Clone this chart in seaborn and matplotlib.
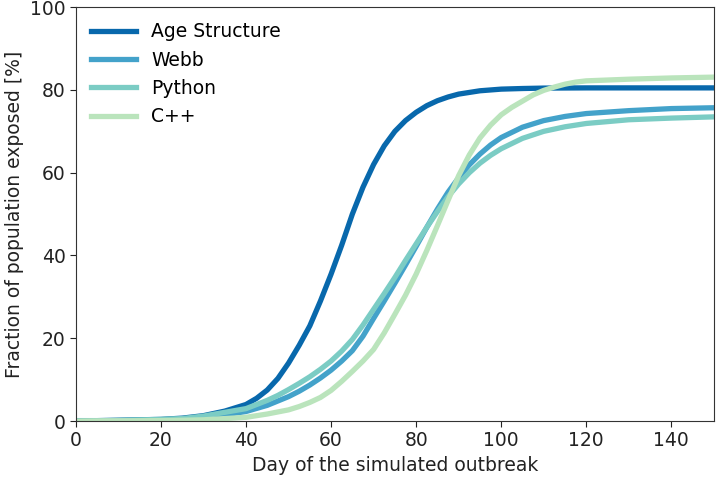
import numpy as np
import pandas as pd
import matplotlib
matplotlib.use("Agg")
import matplotlib.pyplot as plt
import seaborn as sns

# ---- data ----
age_days = [0, 5, 10, 15, 20, 25, 30, 35, 40, 42.5, 45, 47.5, 50, 52.5, 55, 57.5, 60, 62.5,
            65, 67.5, 70, 72.5, 75, 77.5, 80, 82.5, 85, 87.5, 90, 95, 100, 105, 110, 120,
            130, 140, 150]
age_vals = [0.1, 0.1, 0.2, 0.3, 0.4, 0.7, 1.3, 2.4, 4.0, 5.5, 7.5, 10.3, 14.0, 18.3, 23.0,
            29.0, 35.5, 42.5, 50.0, 56.5, 62.0, 66.5, 70.0, 72.6, 74.6, 76.2, 77.4, 78.3,
            79.0, 79.8, 80.2, 80.35, 80.45, 80.5, 80.5, 80.5, 80.5]

webb_days = [0, 10, 20, 25, 30, 35, 40, 45, 50, 52.5, 55, 57.5, 60, 62.5, 65, 67.5, 70, 72.5,
             75, 77.5, 80, 82.5, 85, 87.5, 90, 92.5, 95, 97.5, 100, 105, 110, 115, 120, 130,
             140, 150]
webb_vals = [0.0, 0.1, 0.3, 0.5, 0.9, 1.5, 2.3, 3.8, 5.9, 7.2, 8.7, 10.4, 12.3, 14.5, 17.0,
             20.5, 24.8, 29.0, 33.3, 37.7, 42.2, 46.8, 51.2, 55.3, 58.8, 61.9, 64.5, 66.7,
             68.5, 71.0, 72.6, 73.6, 74.3, 75.0, 75.5, 75.7]

python_days = [0, 10, 20, 25, 30, 35, 40, 45, 47.5, 50, 52.5, 55, 57.5, 60, 62.5, 65, 67.5,
               70, 72.5, 75, 77.5, 80, 82.5, 85, 87.5, 90, 92.5, 95, 97.5, 100, 105, 110,
               115, 120, 130, 140, 150]
python_vals = [0.0, 0.15, 0.4, 0.6, 1.2, 2.1, 3.0, 5.0, 6.2, 7.6, 9.1, 10.7, 12.5, 14.5, 16.9,
               19.7, 23.2, 27.0, 30.8, 34.7, 38.8, 42.8, 46.8, 50.6, 54.2, 57.3, 60.0, 62.3,
               64.2, 65.8, 68.3, 70.0, 71.1, 71.9, 72.8, 73.2, 73.5]

cpp_days = [0, 10, 20, 30, 35, 40, 45, 50, 52.5, 55, 57.5, 60, 62.5, 65, 67.5, 70, 72.5, 75,
            77.5, 80, 82.5, 85, 87.5, 90, 92.5, 95, 97.5, 100, 102.5, 105, 107.5, 110, 112.5,
            115, 117.5, 120, 130, 140, 150]
cpp_vals = [0.0, 0.05, 0.1, 0.3, 0.6, 0.9, 1.7, 2.7, 3.5, 4.5, 5.7, 7.4, 9.6, 12.0, 14.5,
            17.3, 21.3, 25.8, 30.4, 35.5, 41.2, 47.2, 53.3, 59.3, 64.3, 68.4, 71.5, 74.0,
            75.8, 77.3, 78.8, 79.9, 80.7, 81.4, 81.9, 82.2, 82.6, 82.9, 83.1]

labels = ["Age Structure", "Webb", "Python", "C++"]
colors = ["#0868ac", "#43a2ca", "#7bccc4", "#bae4bc"]

frames = []
for lab, d, v in zip(labels, [age_days, webb_days, python_days, cpp_days],
                     [age_vals, webb_vals, python_vals, cpp_vals]):
    frames.append(pd.DataFrame({"day": d, "value": v, "series": lab}))
df = pd.concat(frames, ignore_index=True)

plt.rcParams["font.family"] = ["DejaVu Sans"]

fig = plt.figure(figsize=(7.16, 4.79), dpi=100)
ax = fig.add_axes([0.106, 0.121, 0.891, 0.864])

sns.lineplot(data=df, x="day", y="value", hue="series", hue_order=labels,
             palette=dict(zip(labels, colors)), linewidth=3.8, ax=ax, sort=True,
             estimator=None)

ax.set_xlim(0, 150)
ax.set_ylim(0, 100)
ax.set_xticks([0, 20, 40, 60, 80, 100, 120, 140])
ax.set_yticks([0, 20, 40, 60, 80, 100])
ax.tick_params(labelsize=13.5, direction="out", length=4, colors="#222222")
ax.set_xlabel("Day of the simulated outbreak", fontsize=13.5, color="#222222")
ax.set_ylabel("Fraction of population exposed [%]", fontsize=13.5, color="#222222")
for s in ax.spines.values():
    s.set_visible(True)
    s.set_color("#333333")

leg = ax.legend(loc="upper left", frameon=False, fontsize=13.5, handlelength=2.4,
                borderaxespad=0.4, title=None)
for line in leg.get_lines():
    line.set_linewidth(3.8)

fig.savefig("out.png", dpi=100)
